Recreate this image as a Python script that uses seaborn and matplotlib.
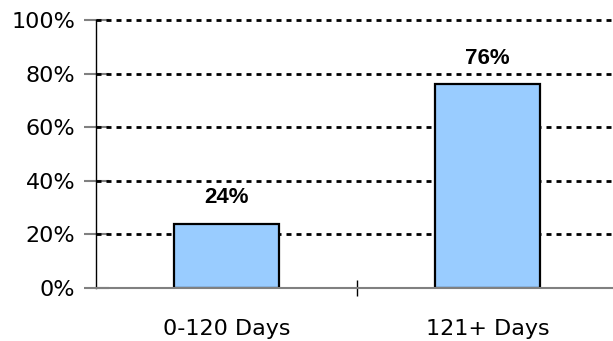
import matplotlib
matplotlib.use("Agg")
import matplotlib.pyplot as plt
import seaborn as sns
import pandas as pd

categories = ["0-120 Days", "121+ Days"]
shares = [24, 76]
y_ticks = [0, 20, 40, 60, 80, 100]
y_tick_labels = ["0%", "20%", "40%", "60%", "80%", "100%"]

sns.set_theme(style="white")
plt.rcParams["font.family"] = ["DejaVu Sans"]
plt.rcParams["text.color"] = "black"
plt.rcParams["xtick.labelcolor"] = "black"
plt.rcParams["ytick.labelcolor"] = "black"

df = pd.DataFrame({"bucket": categories, "share": shares})

W, H = 613, 341
fig = plt.figure(figsize=(W / 100, H / 100), dpi=100)
left, right, top, bottom = 96, 618, 20, 288
ax = fig.add_axes([left / W, 1 - bottom / H, (right - left) / W, (bottom - top) / H])

sns.barplot(data=df, x="bucket", y="share", ax=ax, color="#99CCFF",
            saturation=1, width=0.4, edgecolor="black", linewidth=1.6, zorder=3)

ax.set_xlim(-0.5, 1.5)
ax.set_ylim(0, 100)
ax.set_yticks(y_ticks)
ax.set_yticklabels(y_tick_labels)
ax.set_xticks([0.5])
ax.set_xticks([0, 1], minor=True)
ax.set_xticklabels([""])
ax.set_xticklabels(categories, minor=True)
ax.set_xlabel("")
ax.set_ylabel("")

for y in y_ticks[1:]:
    ax.axhline(y, color="black", lw=2.0, linestyle=(0, (1.8, 1.8)), zorder=1, clip_on=False)

for s in ["top", "right"]:
    ax.spines[s].set_visible(False)
ax.spines["left"].set_color("black")
ax.spines["left"].set_linewidth(1.0)
ax.spines["bottom"].set_color("#808080")
ax.spines["bottom"].set_linewidth(1.5)
ax.spines["bottom"].set_zorder(4)

ax.tick_params(axis="y", direction="inout", length=18, width=1.5, color="#808080",
               labelsize=16, pad=6, left=True, labelcolor="black")
ax.tick_params(axis="x", which="major", direction="inout", length=12, width=1.0,
               color="black", bottom=True)
ax.tick_params(axis="x", which="minor", length=0, labelsize=16, pad=22, labelcolor="black")

for i, v in enumerate(shares):
    ax.annotate(f"{v}%", (i, v), xytext=(0, 11), textcoords="offset points",
                ha="center", va="bottom", fontsize=16, fontweight="bold", color="black",
                family=["Liberation Sans Narrow", "Liberation Sans"])

fig.savefig("out.png", dpi=100)
